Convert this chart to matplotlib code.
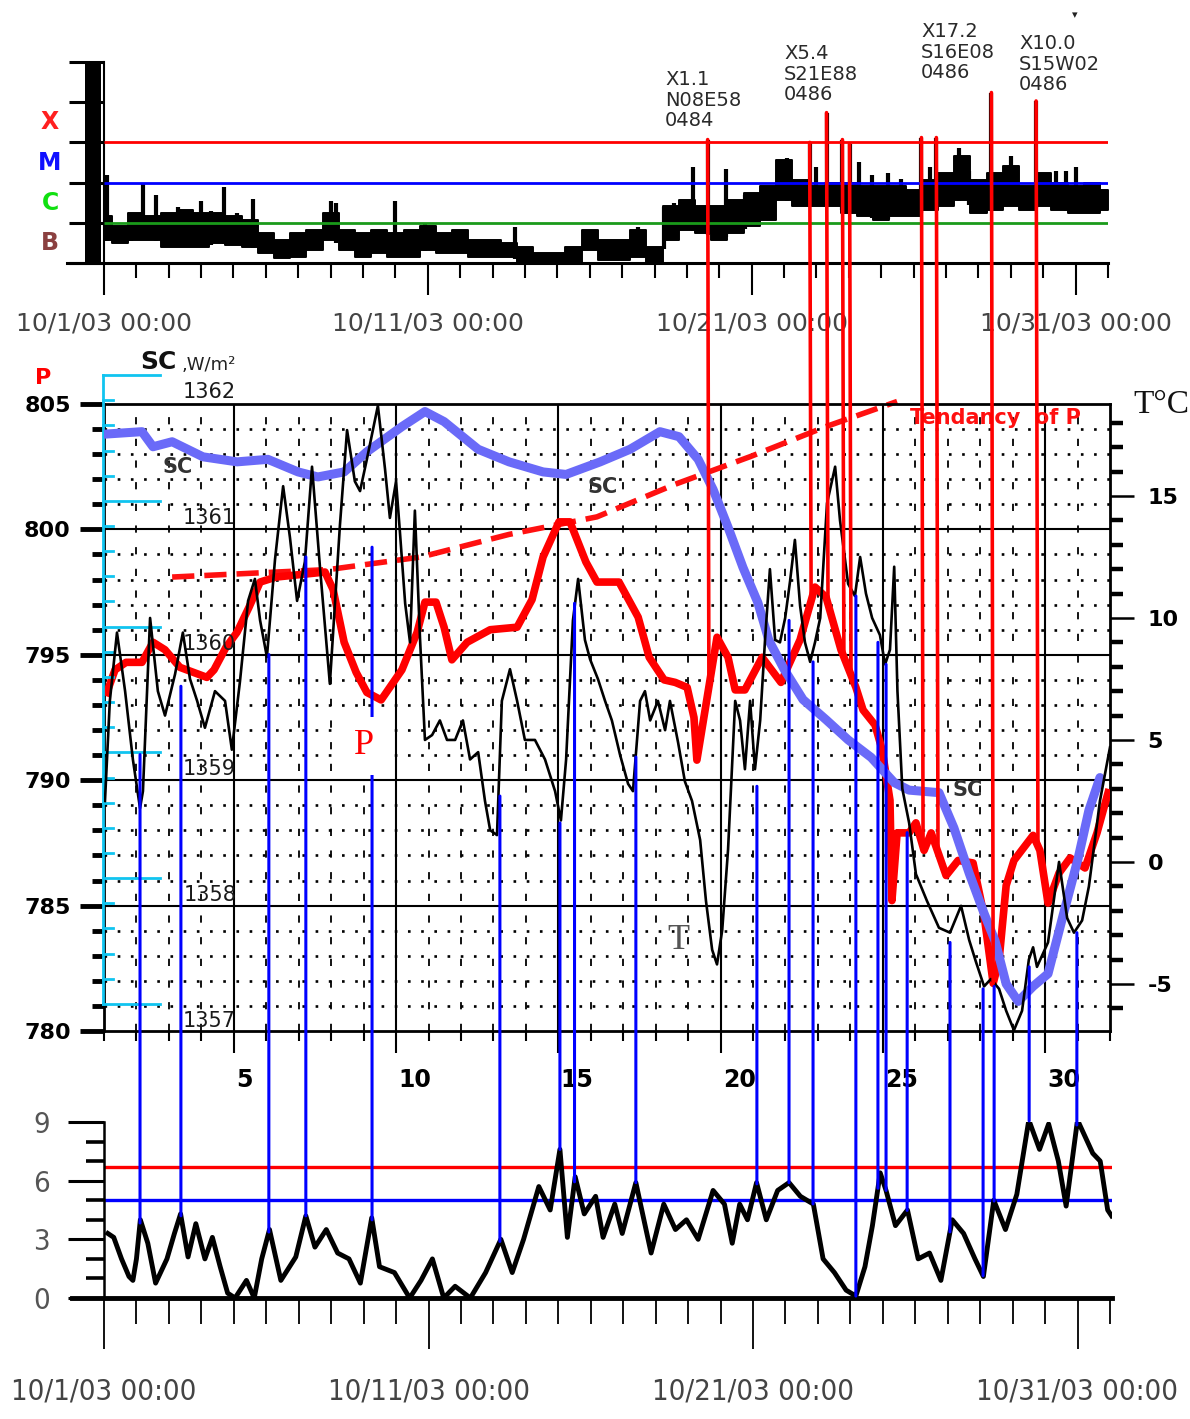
import numpy as np
import matplotlib
matplotlib.use("Agg")
import matplotlib.pyplot as plt
from matplotlib.patches import ConnectionPatch
from matplotlib import font_manager

# ---------------------------------------------------------------- data
# time = days after 10/1/03 00:00
date_ticks = [0, 10, 20, 30]
date_labels = ["10/1/03 00:00", "10/11/03 00:00", "10/21/03 00:00", "10/31/03 00:00"]
day_numbers = [5, 10, 15, 20, 25, 30]

# GOES X-ray flux, log10(W/m^2): background band (upper / lower envelope)
xr_t = np.arange(0, 31.01, 0.5)
xr_up = [-5.84, -6.09, -5.76, -5.84, -5.76, -5.68, -5.76, -5.76, -5.84, -5.93,
         -6.26, -6.43, -6.26, -6.18, -5.76, -6.18, -6.26, -6.18, -6.26, -6.18,
         -6.09, -6.26, -6.18, -6.43, -6.43, -6.51, -6.59, -6.76, -6.76, -6.59,
         -6.18, -6.43, -6.43, -6.18, -6.59, -5.59, -5.43, -5.59, -5.59, -5.43,
         -5.26, -5.09, -4.43, -4.93, -5.09, -5.00, -5.00, -5.09, -5.09, -5.09,
         -5.18, -4.93, -4.76, -4.34, -4.93, -4.76, -4.59, -5.09, -4.76, -5.00,
         -5.09, -5.00, -5.18]
xr_lo = [-6.43, -6.51, -6.43, -6.43, -6.59, -6.59, -6.59, -6.51, -6.55, -6.59,
         -6.76, -6.88, -6.84, -6.68, -6.43, -6.68, -6.84, -6.76, -6.84, -6.84,
         -6.68, -6.76, -6.76, -6.84, -6.84, -6.84, -7.00, -7.09, -7.09, -7.00,
         -6.68, -6.93, -6.93, -6.84, -7.00, -6.43, -6.18, -6.26, -6.43, -6.26,
         -6.09, -5.93, -5.43, -5.59, -5.59, -5.59, -5.76, -5.84, -5.93, -5.84,
         -5.84, -5.68, -5.59, -5.43, -5.76, -5.68, -5.59, -5.68, -5.59, -5.68,
         -5.76, -5.76, -5.68]
# short X-ray spikes
spike_t = [0.1, 0.85, 1.2, 1.6, 2.3, 3.0, 3.3, 3.7, 4.1, 4.6, 7.0, 7.15, 9.0, 9.9,
           10.9, 12.7, 16.5, 17.3, 17.6, 18.2, 19.2, 19.8, 20.7, 21.1, 22.0, 23.3,
           23.7, 24.2, 24.6, 25.5, 26.4, 26.7, 26.9, 28.0, 29.4, 29.7, 30.0, 30.7]
spike_peak = [-4.8, -5.8, -5.0, -5.3, -5.6, -5.45, -5.7, -5.1, -5.75, -5.4, -5.45,
              -5.5, -5.45, -6.0, -6.2, -6.1, -6.1, -5.6, -5.5, -4.6, -4.65, -5.3,
              -5.2, -4.4, -4.6, -4.5, -4.8, -4.75, -4.9, -4.6, -4.15, -4.7, -4.9,
              -4.35, -4.7, -4.7, -4.6, -5.0]
# large flares (marked by red lines)
flare_t = [18.64, 21.79, 22.31, 22.80, 23.02, 25.24, 25.70, 27.40, 28.78]
flare_peak = [-3.93, -4.00, -3.26, -3.93, -4.03, -3.88, -3.88, -2.76, -2.97]
flare_info = ["X1.1\nN08E58\n0484", "X5.4\nS21E88\n0486",
              "X17.2\nS16E08\n0486", "X10.0\nS15W02\n0486"]
xray_levels = [-4, -5, -6]
xray_level_colors = ["#ff0000", "#0000ff", "#1a9a1a"]
class_names = ["X", "M", "C", "B"]
class_mid = [-3.5, -4.5, -5.5, -6.5]
class_colors = ["#ff2020", "#1010ff", "#10e010", "#8b4040"]

# atmospheric pressure P (left axis)
p_t = [0.09, 0.34, 0.68, 1.17, 1.51, 1.88, 2.34, 3.17, 3.39, 3.76,
       4.10, 4.47, 4.81, 5.30, 6.81, 7.06, 7.40, 7.77, 8.10, 8.54,
       9.18, 9.65, 9.89, 10.23, 10.48, 10.72, 11.19, 11.90, 12.73, 13.19,
       13.53, 14.02, 14.36, 14.85, 15.19, 15.87, 16.46, 16.80, 17.26, 17.60,
       17.97, 18.18, 18.27, 18.89, 19.23, 19.45, 19.75, 20.28, 20.86, 21.45,
       21.91, 22.25, 22.71, 23.17, 23.39, 23.76, 23.98, 24.22, 24.28, 24.44,
       24.81, 25.02, 25.27, 25.49, 25.95, 26.32, 26.78, 27.12, 27.40, 27.58,
       27.80, 28.04, 28.63, 28.84, 29.09, 29.43, 29.77, 30.23, 30.60, 30.94]
p_val = [793.5, 794.4, 794.7, 794.7, 795.5, 795.2, 794.5, 794.1, 794.4, 795.3,
         795.9, 796.9, 797.9, 798.1, 798.3, 797.6, 795.5, 794.3, 793.5, 793.2,
         794.4, 795.9, 797.1, 797.1, 796.1, 794.8, 795.5, 796.0, 796.1, 797.2,
         798.9, 800.3, 800.3, 798.7, 797.9, 797.9, 796.5, 794.9, 794.0, 793.9,
         793.7, 792.5, 790.8, 795.7, 794.9, 793.6, 793.6, 794.9, 793.9, 795.6,
         797.7, 797.3, 795.2, 793.7, 792.8, 792.2, 791.2, 789.2, 785.2, 787.9,
         787.9, 788.3, 787.2, 787.9, 786.2, 786.8, 786.7, 784.6, 781.9, 782.8,
         785.8, 786.8, 787.8, 787.2, 785.1, 786.3, 786.9, 786.5, 787.9, 789.5]
# tendency of P (dashed)
tend_t = [2.10, 6.93, 9.77, 12.48, 15.19, 17.60, 19.91, 22.25, 24.44]
tend_p = [798.1, 798.4, 798.9, 799.8, 800.5, 801.8, 802.9, 804.1, 805.1]

# solar constant SC, W/m^2
sc_t = [0.0, 1.17, 1.51, 2.10, 3.05, 4.10, 5.05, 5.98, 6.59, 7.40,
        8.10, 9.18, 9.89, 10.48, 11.53, 12.48, 13.53, 14.24, 15.29, 16.21,
        17.13, 17.72, 18.31, 18.77, 19.23, 19.69, 20.15, 20.49, 20.96, 21.54,
        22.25, 22.93, 23.64, 24.35, 24.81, 25.73, 26.19, 26.66, 27.12, 27.46,
        27.80, 28.17, 28.63, 29.09, 29.55, 30.02, 30.35, 30.69]
sc_val = [1361.53, 1361.55, 1361.43, 1361.47, 1361.35, 1361.31, 1361.33, 1361.23, 1361.19, 1361.23,
          1361.39, 1361.59, 1361.71, 1361.63, 1361.41, 1361.31, 1361.23, 1361.21, 1361.31, 1361.41,
          1361.55, 1361.51, 1361.33, 1361.09, 1360.79, 1360.47, 1360.19, 1359.89, 1359.66, 1359.42,
          1359.26, 1359.10, 1358.96, 1358.76, 1358.70, 1358.68, 1358.40, 1358.04, 1357.72, 1357.50,
          1357.16, 1357.02, 1357.14, 1357.24, 1357.70, 1358.16, 1358.54, 1358.80]
sc_ticks = [1357, 1358, 1359, 1360, 1361, 1362]

# temperature T, deg C (right axis)
tt_t = [0.03, 0.18, 0.40, 0.65, 0.89, 1.11, 1.20, 1.42, 1.66, 1.88,
        2.19, 2.43, 2.65, 2.87, 3.11, 3.42, 3.73, 3.94, 4.19, 4.44,
        4.65, 4.81, 5.02, 5.27, 5.52, 5.73, 5.95, 6.19, 6.41, 6.66,
        6.96, 7.27, 7.49, 7.73, 7.89, 8.10, 8.44, 8.66, 8.81, 9.00,
        9.12, 9.28, 9.43, 9.58, 9.74, 9.89, 10.11, 10.35, 10.57, 10.82,
        11.06, 11.28, 11.53, 11.74, 11.90, 12.11, 12.26, 12.51, 12.73, 12.97,
        13.28, 13.59, 13.90, 14.08, 14.24, 14.45, 14.61, 14.82, 14.98, 15.22,
        15.44, 15.65, 15.90, 16.15, 16.30, 16.52, 16.67, 16.83, 17.07, 17.29,
        17.44, 17.69, 17.90, 18.12, 18.37, 18.55, 18.74, 18.89, 19.05, 19.23,
        19.45, 19.60, 19.75, 19.91, 20.06, 20.22, 20.37, 20.52, 20.68, 20.83,
        20.99, 21.14, 21.29, 21.45, 21.60, 21.76, 21.91, 22.07, 22.28, 22.53,
        22.68, 22.93, 23.14, 23.30, 23.48, 23.67, 23.91, 24.07, 24.22, 24.35,
        24.45, 24.60, 24.81, 25.02, 25.36, 25.73, 26.07, 26.41, 26.66, 26.87,
        27.12, 27.33, 27.58, 27.80, 28.04, 28.29, 28.50, 28.63, 28.75, 29.09,
        29.43, 29.68, 29.89, 30.14, 30.35, 30.69, 31.00]
tt_val = [2.5, 6.6, 9.4, 7.0, 4.2, 2.2, 2.9, 10.0, 7.0, 6.0,
          7.7, 9.4, 7.5, 6.6, 5.5, 7.0, 6.6, 4.6, 7.4, 10.7,
          11.6, 9.9, 8.4, 12.4, 15.4, 13.3, 10.7, 12.3, 16.2, 12.0,
          7.3, 13.8, 17.7, 15.6, 15.2, 16.5, 18.7, 16.1, 14.1, 15.6,
          13.5, 10.6, 9.0, 14.4, 9.1, 5.0, 5.2, 5.8, 5.0, 5.0,
          5.8, 4.2, 4.5, 2.5, 1.3, 1.1, 6.6, 7.9, 6.6, 5.0,
          5.0, 4.2, 2.9, 1.7, 4.2, 9.9, 11.6, 9.1, 8.3, 7.5,
          6.6, 5.8, 4.4, 3.2, 2.9, 6.6, 7.0, 5.8, 6.6, 5.4,
          6.6, 4.9, 3.3, 2.5, 0.9, -1.6, -3.6, -4.2, -2.8, 0.5,
          6.6, 5.8, 3.8, 6.6, 3.8, 5.8, 9.1, 12.0, 9.1, 9.0,
          10.0, 11.5, 13.2, 10.5, 9.0, 8.2, 9.0, 10.0, 14.7, 16.2,
          14.0, 11.4, 10.9, 12.5, 11.0, 10.0, 9.3, 8.1, 8.7, 12.1,
          7.0, 3.0, 1.6, -0.5, -1.6, -2.7, -2.9, -1.8, -3.2, -4.1,
          -5.1, -4.8, -5.2, -6.1, -6.9, -6.1, -4.0, -3.5, -4.3, -3.3,
          0.0, -2.3, -2.9, -2.4, -1.0, 2.5, 4.7]

# geomagnetic Kp index
kp_t = [0.12, 0.30, 0.54, 0.77, 0.89, 1.00, 1.12, 1.35, 1.59, 1.94,
        2.17, 2.36, 2.59, 2.83, 3.11, 3.34, 3.58, 3.81, 4.04, 4.39,
        4.63, 4.86, 5.10, 5.45, 5.91, 6.22, 6.50, 6.85, 7.20, 7.55,
        7.90, 8.25, 8.49, 8.95, 9.42, 9.77, 10.12, 10.47, 10.82, 11.29,
        11.76, 12.23, 12.58, 12.93, 13.40, 13.75, 14.05, 14.28, 14.52, 14.80,
        15.15, 15.38, 15.74, 15.97, 16.39, 16.86, 17.25, 17.61, 17.95, 18.31,
        18.77, 19.12, 19.36, 19.59, 19.83, 20.11, 20.41, 20.76, 21.11, 21.46,
        21.86, 22.16, 22.51, 22.87, 23.17, 23.45, 23.68, 23.92, 24.10, 24.39,
        24.76, 25.09, 25.44, 25.79, 26.14, 26.49, 26.84, 27.10, 27.42, 27.78,
        28.13, 28.50, 28.83, 29.11, 29.41, 29.65, 30.00, 30.47, 30.70, 30.93,
        31.05]
kp_val = [3.3, 3.1, 2.0, 1.1, 0.9, 2.0, 4.0, 2.8, 0.76, 2.0,
          3.3, 4.3, 2.1, 3.8, 2.0, 3.1, 1.6, 0.25, 0.0, 0.9,
          0.0, 2.0, 3.5, 0.9, 2.1, 4.2, 2.6, 3.5, 2.3, 2.0,
          0.76, 4.1, 1.6, 1.3, 0.0, 0.9, 2.0, 0.0, 0.6, 0.0,
          1.3, 3.0, 1.3, 3.0, 5.7, 4.5, 7.6, 3.1, 6.2, 4.3,
          5.2, 3.1, 4.8, 3.3, 5.9, 2.3, 4.8, 3.5, 4.0, 3.0,
          5.5, 4.8, 2.8, 4.8, 4.0, 5.9, 4.0, 5.5, 5.9, 5.2,
          4.8, 2.0, 1.3, 0.4, 0.1, 1.6, 3.7, 6.4, 5.5, 3.7,
          4.5, 2.0, 2.3, 0.9, 4.0, 3.3, 2.0, 1.1, 5.0, 3.5,
          5.3, 9.1, 7.6, 8.9, 7.0, 4.7, 9.1, 7.4, 7.0, 4.5,
          4.2]
kp_levels = [6.7, 5.0]
kp_level_colors = ["#ff0000", "#0000ff"]

# blue marker lines: time and starting temperature
blue_t = [1.11, 2.37, 5.08, 6.22, 8.26, 12.20, 14.05, 14.50, 16.39, 20.12, 21.11,
          21.85, 23.17, 23.85, 24.10, 24.75, 26.07, 27.09, 27.43, 28.51, 29.98]
blue_T = [4.4, 7.2, 8.5, 12.5, 12.9, 2.7, 1.6, 10.6, 4.3, 3.1, 9.9,
          8.2, 10.9, 9.0, 8.1, 1.2, -3.3, -5.2, -5.1, -4.3, -2.9]

# ---------------------------------------------------------------- layout
W, H = 1190, 1419
fig = plt.figure(figsize=(W / 100, H / 100), dpi=100)
PX0, PXD = 104.0, 32.45          # layout: pixel of t=0, pixels per day


def tpx(p):
    return (p - PX0) / PXD


def add_ax(l, r, t, b):
    return fig.add_axes([l / W, 1 - b / H, (r - l) / W, (b - t) / H])


def fxy(px, py):
    return px / W, 1 - py / H


names = {f.name for f in font_manager.fontManager.ttflist}
cond = any(f.name == "DejaVu Sans" and str(f.stretch) in ("condensed", "semi-condensed")
           for f in font_manager.fontManager.ttflist)
if "Liberation Sans Narrow" in names:
    NARROW = dict(fontfamily="Liberation Sans Narrow", fontsize=26)
elif cond:
    NARROW = dict(fontfamily="DejaVu Sans", fontstretch="condensed", fontsize=21)
else:
    NARROW = dict(fontfamily="DejaVu Sans", fontsize=18)
SERIF = ["Liberation Serif", "DejaVu Serif"]

# ---------------------------------------------------------------- top: X-ray
ax1 = add_ax(67, 1108, 62, 263)
ax1.set_xlim(tpx(67), tpx(1108))
ax1.set_ylim(-7, -2)
ax1.patch.set_visible(False)
for s in ["top", "right"]:
    ax1.spines[s].set_visible(False)
ax1.spines["left"].set_position(("data", 0))
ax1.spines["left"].set_linewidth(1.5)
ax1.spines["bottom"].set_linewidth(2.2)
ax1.axvspan(tpx(85), tpx(101), color="black", lw=0)
ax1.set_yticks(np.arange(-7, -1.5, 1))
ax1.set_yticklabels([])
ax1.tick_params(axis="y", length=25, width=2.2, direction="out")
ax1.set_xticks(date_ticks)
ax1.set_xticklabels(date_labels, fontsize=18, color="#444444")
ax1.set_xticks(np.arange(0, 31.5, 1), minor=True)
ax1.tick_params(axis="x", which="major", length=23, width=1.5, pad=12)
ax1.tick_params(axis="x", which="minor", length=11, width=1.5)

ax1.fill_between(xr_t, xr_lo, xr_up, step="mid", color="black", lw=1.4, zorder=2)
ax1.vlines(spike_t, np.interp(spike_t, xr_t, xr_lo), spike_peak, color="black", lw=3, zorder=2)
ax1.vlines(flare_t, np.interp(flare_t, xr_t, xr_lo), flare_peak, color="black", lw=3, zorder=2)
ax1.hlines(xray_levels, 0, xr_t[-1], colors=xray_level_colors, lw=2, zorder=3)
for nm, ym, c in zip(class_names, class_mid, class_colors):
    ax1.text(tpx(50), ym, nm, color=c, fontsize=17, fontweight="bold",
             ha="center", va="center")

# flare annotations
for txt, (px, py) in zip(flare_info, [(665, 100), (784, 74), (921, 52), (1019, 64)]):
    fig.text(*fxy(px, py), txt, fontsize=14, color="#2a2a2a", ha="left",
             va="center", linespacing=1.1)
fig.text(*fxy(1075, 15), "\u25BE", fontsize=8, color="#222222", ha="center", va="center")

# ---------------------------------------------------------------- middle
ax2 = add_ax(104, 1110, 404, 1031)
ax2.set_xlim(0, 31)
ax2.set_ylim(780, 805)
for s in ax2.spines.values():
    s.set_linewidth(2)
p_major = [780, 785, 790, 795, 800, 805]
ax2.set_yticks(p_major)
ax2.set_yticklabels([str(v) for v in p_major], fontsize=16, fontweight="bold")
ax2.set_yticks(np.arange(780, 805.5, 1), minor=True)
ax2.tick_params(axis="y", which="major", length=17, width=3.5, pad=7)
ax2.tick_params(axis="y", which="minor", length=9, width=3.5)
ax2.set_xticks([d - 1 for d in day_numbers])
ax2.set_xticklabels([])
ax2.set_xticks(np.arange(0, 31.5, 1), minor=True)
ax2.tick_params(axis="x", which="major", length=16, width=1.5)
ax2.tick_params(axis="x", which="minor", length=7, width=1.5)

# grid
for v in range(781, 805):
    if v % 5:
        ax2.axhline(v, color="black", lw=1.9, ls=(0, (1, 4)), zorder=0.5)
    else:
        ax2.axhline(v, color="black", lw=1.5, zorder=0.5)
for d in range(1, 31):
    if (d + 1) % 5:
        ax2.axvline(d, color="black", lw=1.3, ls=(0, (4, 8)), zorder=0.5)
    else:
        ax2.axvline(d, color="black", lw=1.5, zorder=0.5)

ax2.plot(tend_t, tend_p, color="#ff1010", lw=4, ls=(0, (4, 1.8)), clip_on=False, zorder=2)
ax2.plot(p_t, p_val, color="#ff0000", lw=5.5, zorder=3, solid_joinstyle="round")
for d in day_numbers:
    ax2.text(d - 1 + 0.07, -0.078, str(d), transform=ax2.get_xaxis_transform(),
             ha="left", va="center", fontsize=17, fontweight="bold")
ax2.text(tpx(910), 804.45, "Tendancy  of P", color="#ff1010", fontsize=15,
         fontweight="bold", ha="left", va="center")
for (px, pv) in [(178, 802.5), (603, 801.7), (968, 789.6)]:
    ax2.text(tpx(px), pv, "SC", color="#333333", fontsize=15, fontweight="bold",
             ha="center", va="center", zorder=4)
ax2.text(tpx(678), 783.6, "T", color="#555555", fontsize=26, family=SERIF,
         ha="center", va="center")

# SC axis (cyan)
CYAN = "#10c4f0"
ax_sc = ax2.twinx()
ax_sc.set_ylim(1356.785, 1361.77)
ax_sc.yaxis.set_visible(False)
for s in ax_sc.spines.values():
    s.set_visible(False)
trs = ax_sc.get_yaxis_transform()
ax_sc.plot([-0.001, -0.001], [sc_ticks[0], sc_ticks[-1]], transform=trs, color=CYAN,
           lw=2, clip_on=False)
for v in np.arange(sc_ticks[0], sc_ticks[-1] + 0.01, 0.2):
    major = abs(v - round(v)) < 1e-6
    ax_sc.plot([-0.001, 0.056 if major else 0.009], [v, v], transform=trs, color=CYAN,
               lw=2, clip_on=False)
for v in sc_ticks:
    ax_sc.text(0.105, v - 0.135, str(v), transform=trs, ha="center", va="center",
               fontsize=15, color="#1a1a1a")
ax_sc.plot(sc_t, sc_val, color="#6a6af8", lw=6.5, solid_capstyle="round")

# T axis
ax_T = ax2.twinx()
ax_T.set_ylim(-6.93, 18.77)
t_major = [-5, 0, 5, 10, 15]
ax_T.set_yticks(t_major)
ax_T.set_yticklabels([str(v) for v in t_major], fontsize=16, fontweight="bold")
ax_T.set_yticks(np.arange(-6, 18.5, 1), minor=True)
ax_T.tick_params(axis="y", which="major", length=17, width=1.8, pad=10)
ax_T.tick_params(axis="y", which="minor", length=9, width=3.2)
for s in ax_T.spines.values():
    s.set_visible(False)
ax_T.plot(tt_t, tt_val, color="black", lw=1.9)

# header texts of the middle panel
fig.text(*fxy(43, 378), "P", color="#ff0000", fontsize=16, fontweight="bold",
         ha="center", va="center")
fig.text(*fxy(158, 362), "SC", color="#111111", fontsize=18, fontweight="bold",
         ha="center", va="center")
fig.text(*fxy(182, 365), ",W/m\u00b2", color="#222222", fontsize=13, ha="left", va="center")
fig.text(*fxy(1161, 405), "T\u00b0C", color="#111111", fontsize=24, family=SERIF,
         ha="center", va="center")

# ---------------------------------------------------------------- bottom: Kp
ax3 = add_ax(72, 1112, 1122, 1298)
ax3.set_xlim(tpx(72), tpx(1112))
ax3.set_ylim(0, 9)
ax3.patch.set_visible(False)
for s in ["top", "right"]:
    ax3.spines[s].set_visible(False)
ax3.spines["left"].set_position(("data", 0))
ax3.spines["left"].set_linewidth(1.8)
ax3.spines["bottom"].set_linewidth(3.5)
kp_major = [0, 3, 6, 9]
ax3.set_yticks(kp_major)
ax3.set_yticklabels([str(v) for v in kp_major], color="#555555", **NARROW)
ax3.set_yticks(np.arange(0, 9.5, 1), minor=True)
ax3.tick_params(axis="y", which="major", length=26, width=2.2, pad=13)
ax3.tick_params(axis="y", which="minor", length=13, width=2.6)
ax3.set_xticks(date_ticks)
ax3.set_xticklabels(date_labels, color="#444444", **NARROW)
ax3.set_xticks(np.arange(0, 31.5, 1), minor=True)
ax3.tick_params(axis="x", which="major", length=37, width=1.3, pad=20)
ax3.tick_params(axis="x", which="minor", length=19, width=1.3)
ax3.hlines(kp_levels, 0, kp_t[-1], colors=kp_level_colors, lw=2.4, zorder=2)
ax3.plot(kp_t, kp_val, color="black", lw=3.5, zorder=3)

# ---------------------------------------------------------------- connecting lines
for ft, fp in zip(flare_t, flare_peak):
    con = ConnectionPatch(xyA=(ft, fp), coordsA=ax1.transData,
                          xyB=(ft, float(np.interp(ft, p_t, p_val))), coordsB=ax2.transData,
                          color="#ff0000", lw=2.6, zorder=1.5)
    fig.add_artist(con)
for bt, bT in zip(blue_t, blue_T):
    con = ConnectionPatch(xyA=(bt, bT), coordsA=ax_T.transData,
                          xyB=(bt, float(np.interp(bt, kp_t, kp_val))), coordsB=ax3.transData,
                          color="#0000ff", lw=2.2, zorder=1.4)
    fig.add_artist(con)

# red P label on white patch
fig.text(*fxy(364, 746), "P", color="#ff0000", fontsize=26, family=SERIF,
         ha="center", va="center", zorder=5,
         bbox=dict(boxstyle="square,pad=0.35", fc="white", ec="none"))

fig.savefig("out.png", dpi=100)
